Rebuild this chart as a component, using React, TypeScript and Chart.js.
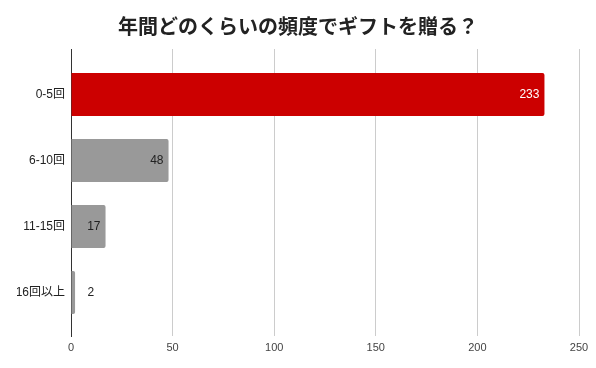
import React, { useEffect, useRef } from "react";
import { Chart, registerables } from "chart.js";

Chart.register(...registerables);

const TITLE = "年間どのくらいの頻度でギフトを贈る？";
const categories = ["0-5回", "6-10回", "11-15回", "16回以上"];
const values = [233, 48, 17, 2];
const barColors = ["#cc0000", "#999999", "#999999", "#999999"];
const labelColors = ["#ffffff", "#222222", "#222222", "#222222"];
const xTicks = [0, 50, 100, 150, 200, 250];

const FONT = "'Liberation Sans', Arial, 'Noto Sans CJK JP', sans-serif";

const valueLabels = {
  id: "valueLabels",
  afterDatasetsDraw(chart: any) {
    const ctx = chart.ctx;
    const meta = chart.getDatasetMeta(0);
    ctx.save();
    ctx.font = `12px ${FONT}`;
    ctx.textBaseline = "middle";
    meta.data.forEach((el: any, i: number) => {
      const text = String(values[i]);
      const tw = ctx.measureText(text).width;
      const len = el.x - el.base;
      if (len > tw + 10) {
        ctx.textAlign = "right";
        ctx.fillStyle = labelColors[i];
        ctx.fillText(text, el.x - 5, el.y);
      } else {
        ctx.textAlign = "left";
        ctx.fillStyle = "#222222";
        ctx.fillText(text, el.x + 12.5, el.y);
      }
    });
    ctx.restore();
  },
};

export default function App() {
  const ref = useRef<HTMLCanvasElement>(null);
  useEffect(() => {
    if (!ref.current) return;
    const chart = new Chart(ref.current, {
      type: "bar",
      data: {
        datasets: [
          {
            data: values.map((v, i) => ({ x: v, y: i })) as any,
            backgroundColor: barColors,
            borderRadius: 2,
            borderSkipped: "start",
            barPercentage: 0.65,
            categoryPercentage: 1,
          },
        ],
      },
      options: {
        indexAxis: "y",
        animation: false,
        responsive: false,
        maintainAspectRatio: false,
        layout: { padding: { top: 0, right: 17, bottom: 0, left: 17 } },
        plugins: {
          legend: { display: false },
          tooltip: { enabled: false },
          title: {
            display: true,
            text: TITLE,
            color: "#222222",
            font: { size: 20, weight: "bold", family: "'Noto Sans CJK JP', sans-serif" },
            padding: { top: 14, bottom: 11 },
          },
        },
        scales: {
          x: {
            type: "linear",
            min: 0,
            max: 250,
            afterBuildTicks: (scale: any) => {
              scale.ticks = xTicks.map((v) => ({ value: v }));
            },
            afterFit: (scale: any) => {
              scale.height = 32;
            },
            grid: { color: "#cccccc", drawTicks: false, lineWidth: 1 },
            border: { display: false },
            ticks: {
              color: "#444444",
              font: { size: 11, family: FONT },
              padding: 5,
              maxRotation: 0,
            },
          },
          y: {
            type: "linear",
            reverse: true,
            offset: false,
            min: -0.689,
            max: 3.659,
            afterBuildTicks: (scale: any) => {
              scale.ticks = categories.map((_, i) => ({ value: i }));
            },
            afterFit: (scale: any) => {
              scale.width = 54;
            },
            grid: { display: false, drawTicks: false, offset: false },
            border: { display: true, color: "#333333", width: 1 },
            ticks: {
              color: "#222222",
              font: { size: 12, family: FONT },
              padding: 6,
              callback: (v: any) => categories[v] ?? "",
            },
          },
        },
      },
      plugins: [valueLabels],
    } as any);
    return () => chart.destroy();
  }, []);
  return (
    <div style={{ position: "absolute", left: 0, top: 0, width: 596, height: 368, background: "#fff" }}>
      <canvas ref={ref} width={596} height={368} style={{ display: "block" }} />
    </div>
  );
}
